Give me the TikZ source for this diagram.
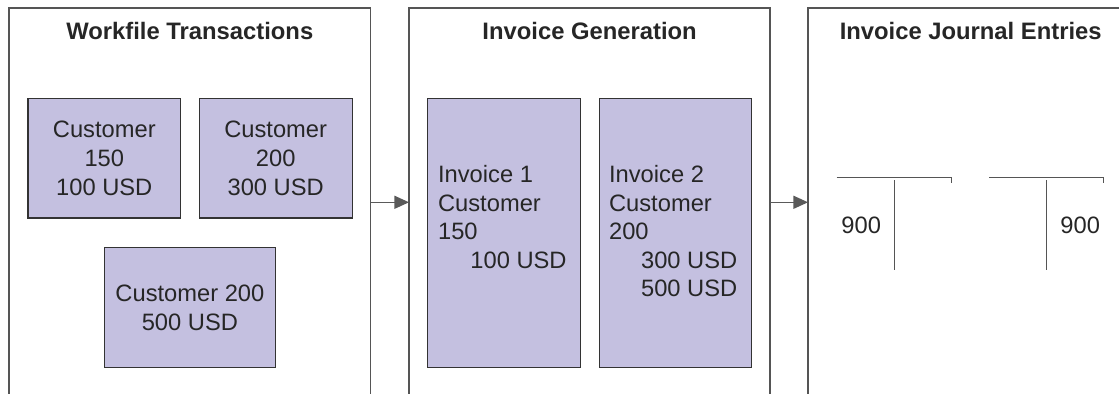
\documentclass[tikz,border=0pt]{standalone}
\usepackage{fontspec}
\setmainfont{Liberation Sans}
\usetikzlibrary{arrows.meta}
\definecolor{boxfill}{HTML}{C4C0E0}
\definecolor{framegray}{HTML}{555555}
\definecolor{edgegray}{HTML}{333333}
\definecolor{arrowgray}{HTML}{5A5A5A}
\begin{document}
\begin{tikzpicture}[x=0.5pt,y=-0.5pt,
  panel/.style={draw=framegray,line width=0.6pt},
  ttl/.style={font=\fontsize{11.9}{14}\selectfont\bfseries,anchor=base,inner sep=0,text=black!85},
  card/.style={draw=edgegray,fill=boxfill,line width=0.55pt,inner sep=0,rectangle},
  ctext/.style={font=\fontsize{11.85}{14.35}\selectfont,align=center,inner sep=0,text=black!85},
  ltext/.style={font=\fontsize{11.85}{14.35}\selectfont,inner sep=0,anchor=base west,text=black!85},
  flow/.style={draw=arrowgray,line width=0.7pt,-{Triangle[length=7.3pt,width=6.5pt]}},
  tacc/.style={draw=framegray,line width=0.55pt}]
\useasboundingbox (0,0) rectangle (1119,394);

% panels
\draw[panel] (9,394) -- (9,8) -- (370.5,8) -- (370.5,394);
\draw[panel] (409,394) -- (409,8) -- (770,8) -- (770,394);
\draw[panel] (808,394) -- (808,8) -- (1119,8);

% titles
\node[ttl] (t1) at (189.8,40) {Workfile Transactions};
\node[ttl] (t2) at (589.6,40) {Invoice Generation};
\node[ttl] (t3) at (970.7,40) {Invoice Journal Entries};

% workfile boxes
\node[card,minimum width=76.35pt,minimum height=59.85pt] (c1) at (104.3,158.2) {};
\node[ctext] (c1t) at (c1.center) {Customer\\150\\100 USD};
\node[card,minimum width=76.35pt,minimum height=59.85pt] (c2) at (275.7,158.2) {};
\node[ctext] (c2t) at (c2.center) {Customer\\200\\300 USD};
\node[card,minimum width=85.85pt,minimum height=59.8pt] (c3) at (189.9,307.5) {};
\node[ctext] (c3t) at (c3.center) {Customer 200\\500 USD};

% invoice boxes
\node[card,minimum width=76.15pt,minimum height=134.5pt] (i1) at (503.9,232.8) {};
\node[card,minimum width=76.15pt,minimum height=134.5pt] (i2) at (675.2,232.8) {};
\node[ltext] (i1a) at (437.7,182.7) {Invoice 1};
\node[ltext] (i1b) at (437.7,211.2) {Customer};
\node[ltext] (i1c) at (437.7,239.7) {150};
\node[ltext] (i1d) at (470,268.2) {100 USD};
\node[ltext] (i2a) at (608.7,182.7) {Invoice 2};
\node[ltext] (i2b) at (608.7,211.2) {Customer};
\node[ltext] (i2c) at (608.7,239.7) {200};
\node[ltext] (i2d) at (640.7,268.2) {300 USD};
\node[ltext] (i2e) at (640.7,296.9) {500 USD};

% arrows between panels
\coordinate (p1r) at (370.5,202.3);
\coordinate (p2l) at (409,202.3);
\coordinate (p2r) at (770,202.3);
\coordinate (p3l) at (808,202.3);
\draw[flow] (p1r) -- (p2l);
\draw[flow] (p2r) -- (p3l);

% T-accounts
\coordinate (ta1l) at (836.7,177.7);
\coordinate (ta1r) at (951.3,177.7);
\coordinate (ta1e) at (951.3,182.7);
\coordinate (ta1t) at (894.3,180.3);
\coordinate (ta1b) at (894.3,270);
\draw[tacc] (ta1l) -- (ta1r) -- (ta1e);
\draw[tacc] (ta1t) -- (ta1b);
\node[ltext] (v1) at (841,233.3) {900};

\coordinate (ta2l) at (989,177.7);
\coordinate (ta2r) at (1103.7,177.7);
\coordinate (ta2e) at (1103.7,182.7);
\coordinate (ta2t) at (1046.3,180.3);
\coordinate (ta2b) at (1046.3,270);
\draw[tacc] (ta2l) -- (ta2r) -- (ta2e);
\draw[tacc] (ta2t) -- (ta2b);
\node[ltext] (v2) at (1060,233.3) {900};
\end{tikzpicture}
\end{document}
